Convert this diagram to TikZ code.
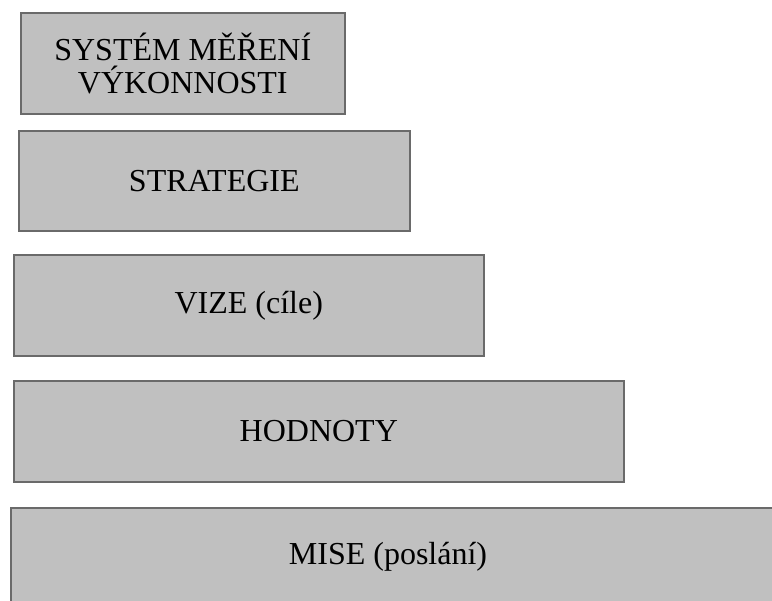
\documentclass[tikz,border=0pt]{standalone}
\usepackage{fontspec}
\setmainfont{Liberation Serif}
\definecolor{boxfill}{HTML}{C0C0C0}
\definecolor{boxline}{HTML}{6A6A6A}

\begin{document}
\begin{tikzpicture}[x=1pt,y=-1pt,
  box/.style={draw=boxline, line width=1.6pt, fill=boxfill, anchor=north west,
    inner sep=0pt, align=center, font=\fontsize{32}{33}\selectfont}]
  \useasboundingbox (0,0) rectangle (772,601);
  \clip (0,0) rectangle (772,601);
  \node[box, minimum width=324, minimum height=101] (system) at (20,12) {SYSTÉM MĚŘENÍ\\VÝKONNOSTI};
  \node[box, minimum width=391, minimum height=100] (strategie) at (18,130) {STRATEGIE};
  \node[box, minimum width=470, minimum height=101] (vize) at (13,254) {VIZE (cíle)};
  \node[box, minimum width=610, minimum height=101] (hodnoty) at (13,380) {HODNOTY};
  \node[box, minimum width=800, minimum height=100] (mise) at (10,507) {};
  \node[font=\fontsize{32}{33}\selectfont, inner sep=0pt] (misetext) at (388,557) {MISE (poslání)};
\end{tikzpicture}
\end{document}
